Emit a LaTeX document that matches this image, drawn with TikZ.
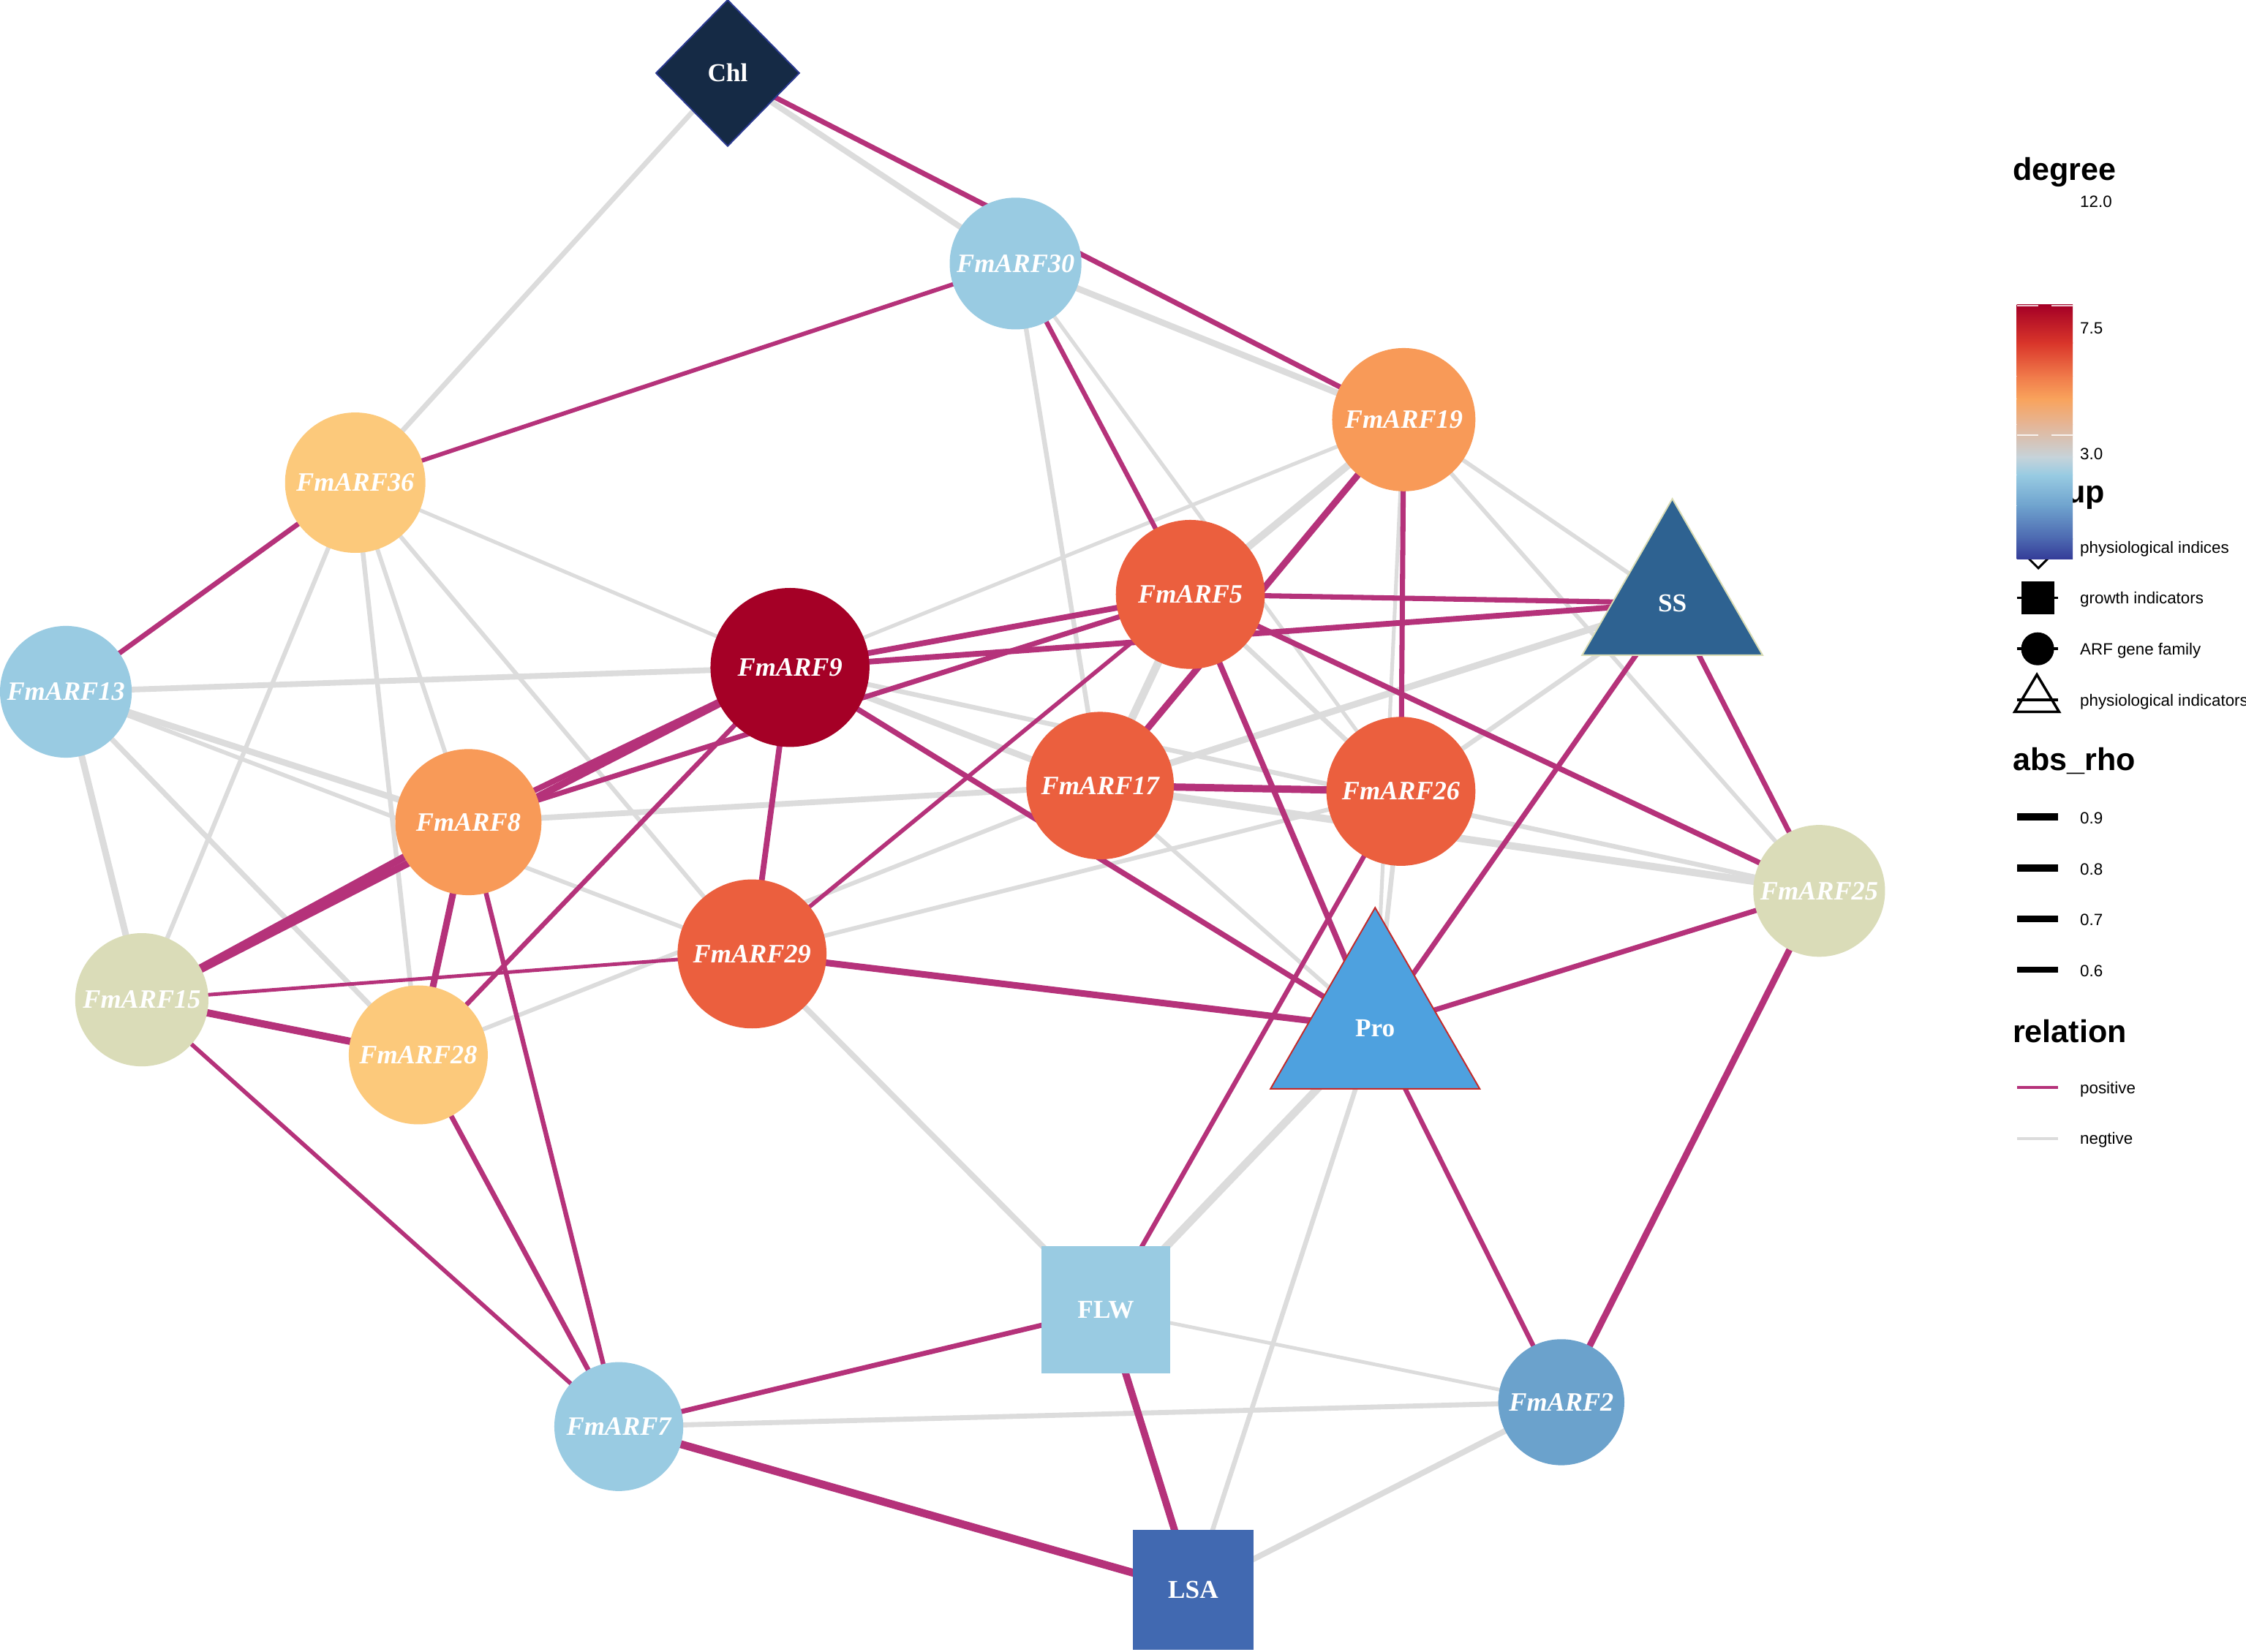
\documentclass[tikz,border=0pt]{standalone}
\usepackage{fontspec}
\setmainfont{Liberation Serif}
\newfontfamily\legfont{Liberation Sans}
\usetikzlibrary{shapes.geometric}
\pgfdeclarelayer{bglayer}
\pgfdeclarelayer{edgelayer}
\pgfsetlayers{bglayer,edgelayer,main}
\definecolor{posc}{HTML}{B5327A}
\definecolor{negc}{HTML}{DCDCDC}
\definecolor{dA}{HTML}{A50026}
\definecolor{dB}{HTML}{EB5F3E}
\definecolor{dC}{HTML}{F89A58}
\definecolor{dD}{HTML}{FCC97B}
\definecolor{dE}{HTML}{DADCB8}
\definecolor{dF}{HTML}{99CBE2}
\definecolor{dG}{HTML}{6BA2CC}
\definecolor{dH}{HTML}{4169B1}
\definecolor{chlfill}{HTML}{152A45}
\definecolor{chlline}{HTML}{2A3990}
\definecolor{ssfill}{HTML}{2E6291}
\definecolor{ssline}{HTML}{D9DCB5}
\definecolor{profill}{HTML}{4EA1DF}
\definecolor{proline}{HTML}{C42A2A}
\definecolor{cb0}{HTML}{A50026}
\definecolor{cb1}{HTML}{D9352A}
\definecolor{cb2}{HTML}{F07A4A}
\definecolor{cb3}{HTML}{F9A35C}
\definecolor{cb4}{HTML}{E5B596}
\definecolor{cb5}{HTML}{C6D3DA}
\definecolor{cb6}{HTML}{98CBE2}
\definecolor{cb7}{HTML}{6FA3CE}
\definecolor{cb8}{HTML}{4C68B0}
\definecolor{cb9}{HTML}{343C98}
\begin{document}
\begin{tikzpicture}[x=1pt,y=-1pt,
  arf/.style={circle, inner sep=0pt, outer sep=0pt, text=white,
    font=\fontsize{18.5}{20}\selectfont\bfseries\itshape},
  ind/.style={inner sep=0pt, outer sep=0pt, text=white,
    font=\fontsize{18}{20}\selectfont\bfseries},
  tri/.style={ind, regular polygon, regular polygon sides=3, line width=1pt},
  posline/.style={draw=posc},
  negline/.style={draw=negc},
  leg/.style={font=\legfont\fontsize{11.4}{13}\selectfont, anchor=base west, inner sep=0pt},
  legtitle/.style={font=\legfont\fontsize{22}{24}\selectfont\bfseries, anchor=base west, inner sep=0pt}]
\useasboundingbox (0,0) rectangle (1568,1153);
\begin{pgfonlayer}{bglayer}
\fill[white] (0,0) rectangle (1568,1153);
\end{pgfonlayer}

% ---------- nodes ----------
\node[ind, diamond, minimum width=100pt, minimum height=102pt, fill=chlfill, draw=chlline, line width=1pt] (Chl) at (508,51) {Chl};
\node[arf, fill=dF, minimum size=92pt] (F30) at (709,184) {FmARF30};
\node[arf, fill=dC, minimum size=100pt] (F19) at (980,293) {FmARF19};
\node[arf, fill=dD, minimum size=98pt] (F36) at (248,337) {FmARF36};
\node[tri, fill=ssfill, draw=ssline, minimum size=145.5pt] (SS) at (1167.5,421) {SS};
\node[arf, fill=dB, minimum size=104pt] (F5) at (831,415) {FmARF5};
\node[arf, fill=dA, minimum size=111pt] (F9) at (551.5,466) {FmARF9};
\node[arf, fill=dF, minimum size=92pt] (F13) at (46,483) {FmARF13};
\node[arf, fill=dB, minimum size=103pt] (F17) at (768,548.5) {FmARF17};
\node[arf, fill=dB, minimum size=104pt] (F26) at (978,552.5) {FmARF26};
\node[arf, fill=dC, minimum size=102pt] (F8) at (327,574) {FmARF8};
\node[arf, fill=dE, minimum size=92pt] (F25) at (1270,622) {FmARF25};
\node[arf, fill=dE, minimum size=93pt] (F15) at (99,698) {FmARF15};
\node[arf, fill=dB, minimum size=104pt] (F29) at (525,666) {FmARF29};
\node[arf, fill=dD, minimum size=97pt] (F28) at (292,736.5) {FmARF28};
\node[tri, fill=profill, draw=proline, minimum size=168.6pt] (Pro) at (960,718) {Pro};
\node[ind, rectangle, fill=dF, minimum width=90pt, minimum height=89pt] (FLW) at (772,914.5) {FLW};
\node[arf, fill=dG, minimum size=88pt] (F2) at (1090,979) {FmARF2};
\node[arf, fill=dF, minimum size=90pt] (F7) at (432,996) {FmARF7};
\node[ind, rectangle, fill=dH, minimum width=84pt, minimum height=84pt] (LSA) at (833,1110) {LSA};

% ---------- edges ----------
\begin{pgfonlayer}{edgelayer}
\foreach \a/\b/\w in {Chl/F36/3.5, Chl/F30/4, F30/F19/4.4, F30/F17/3.3, F30/F26/2.6,
  F5/F19/5.1, F19/F9/2.6, F19/Pro/2.6, F19/SS/2.9, F19/F25/2.9, F17/SS/4.6,
  F26/SS/3.3, F26/Pro/3.3, Pro/FLW/5.5, Pro/LSA/3.3, F36/F9/2.6, F13/F9/4,
  F9/F17/4.4, F9/F25/3.3, F8/F17/4, F36/F29/3, F29/F26/3, F28/F17/3, F29/FLW/4,
  F5/F17/5.5, F5/F26/3.3, F36/F15/3.1, F36/F28/3.3, F36/F8/3, F13/F8/4.4,
  F13/F29/2.9, F13/F15/4.6, F13/F28/3.6, F17/F25/5.1, F17/Pro/2.9,
  FLW/F2/2.5, F7/F2/3.5, LSA/F2/4}
  \draw[negline, line width=\w pt] (\a.center) -- (\b.center);
\foreach \a/\b/\w in {Chl/F19/3.6, F30/F36/3, F30/F5/3.3, F36/F13/3.5, F19/F26/3.6,
  F17/F19/4.6, F5/SS/3.6, F9/SS/4, F5/F25/3.8, F5/Pro/4, F5/F9/4, F8/F5/3.6,
  F5/F29/2.9, F9/F29/4, F9/Pro/3.8, F28/F9/3.3, F15/F9/5, F15/F8/5, F8/F9/4,
  F29/Pro/4.6, SS/Pro/3.6, F25/Pro/3.6, Pro/F2/3.3, F26/FLW/3.3, SS/F25/3.6,
  F25/F2/4.5, F17/F26/5.1, F15/F28/5.1, F15/F29/2.5, F8/F28/4.6, F15/F7/2.9,
  F28/F7/3.5, F8/F7/3.3, FLW/F7/3.5, F7/LSA/5.5, FLW/LSA/5}
  \draw[posline, line width=\w pt] (\a.center) -- (\b.center);
\end{pgfonlayer}

% ---------- legend ----------
\node[legtitle] (tdeg) at (1405,126) {degree};
\node[leg] (t12) at (1452,145) {12.0};
\node[legtitle] (tgrp) at (1407,351) {group};
\node[diamond, draw=black, line width=1.5pt, minimum width=28pt, minimum height=28pt, inner sep=0pt] (kdia) at (1423,383) {};
\shade[top color=cb0, bottom color=cb1] (1408,212.7) rectangle (1447,239.6);
\shade[top color=cb1, bottom color=cb2] (1408,239.3) rectangle (1447,262.8);
\shade[top color=cb2, bottom color=cb3] (1408,262.5) rectangle (1447,278.7);
\shade[top color=cb3, bottom color=cb4] (1408,278.4) rectangle (1447,296.5);
\shade[top color=cb4, bottom color=cb5] (1408,296.2) rectangle (1447,319.4);
\shade[top color=cb5, bottom color=cb6] (1408,319.1) rectangle (1447,331.8);
\shade[top color=cb6, bottom color=cb7] (1408,331.5) rectangle (1447,353.2);
\shade[top color=cb7, bottom color=cb8] (1408,352.9) rectangle (1447,376.3);
\shade[top color=cb8, bottom color=cb9] (1408,376) rectangle (1447,390.5);
\draw[white, line width=1pt, opacity=0.8] (1408,213.2) -- (1423,213.2) (1432,213.2) -- (1447,213.2);
\draw[white, line width=1pt, opacity=0.8] (1408,303.9) -- (1423,303.9) (1432,303.9) -- (1447,303.9);
\node[leg] (t75) at (1452,233) {7.5};
\node[leg] (t30) at (1452,321) {3.0};
\node[leg] (lg1) at (1452,386) {physiological indices};
\fill[black] (1411,406) rectangle (1434,429);
\draw[black, line width=1.8pt] (1408,417.5) -- (1437,417.5);
\node[leg] (lg2) at (1452,421.5) {growth indicators};
\fill[black] (1422.5,453) circle (11.5);
\draw[black, line width=1.8pt] (1408,453) -- (1437,453);
\node[leg] (lg3) at (1452,457) {ARF gene family};
\draw[black, line width=1.8pt, line join=miter] (1422,471) -- (1437.5,497) -- (1406.5,497) -- cycle;
\draw[black, line width=1.8pt] (1408,488.5) -- (1437,488.5);
\node[leg] (lg4) at (1452,493) {physiological indicators};

\node[legtitle] (tabs) at (1405,538) {abs\_rho};
\draw[black, line width=5.4pt] (1408.4,570.3) -- (1436.8,570.3);
\draw[black, line width=5.1pt] (1408.4,606) -- (1436.8,606);
\draw[black, line width=4.8pt] (1408.4,641.5) -- (1436.8,641.5);
\draw[black, line width=4.5pt] (1408.4,677) -- (1436.8,677);
\node[leg] (r9) at (1452,575) {0.9};
\node[leg] (r8) at (1452,610.7) {0.8};
\node[leg] (r7) at (1452,646.2) {0.7};
\node[leg] (r6) at (1452,681.7) {0.6};

\node[legtitle] (trel) at (1405,728) {relation};
\draw[posc, line width=2pt] (1408.4,759.4) -- (1436.8,759.4);
\draw[negc, line width=2.2pt] (1408.4,795) -- (1436.8,795);
\node[leg] (lp) at (1452,763.5) {positive};
\node[leg] (ln) at (1452,799) {negtive};
\end{tikzpicture}
\end{document}
